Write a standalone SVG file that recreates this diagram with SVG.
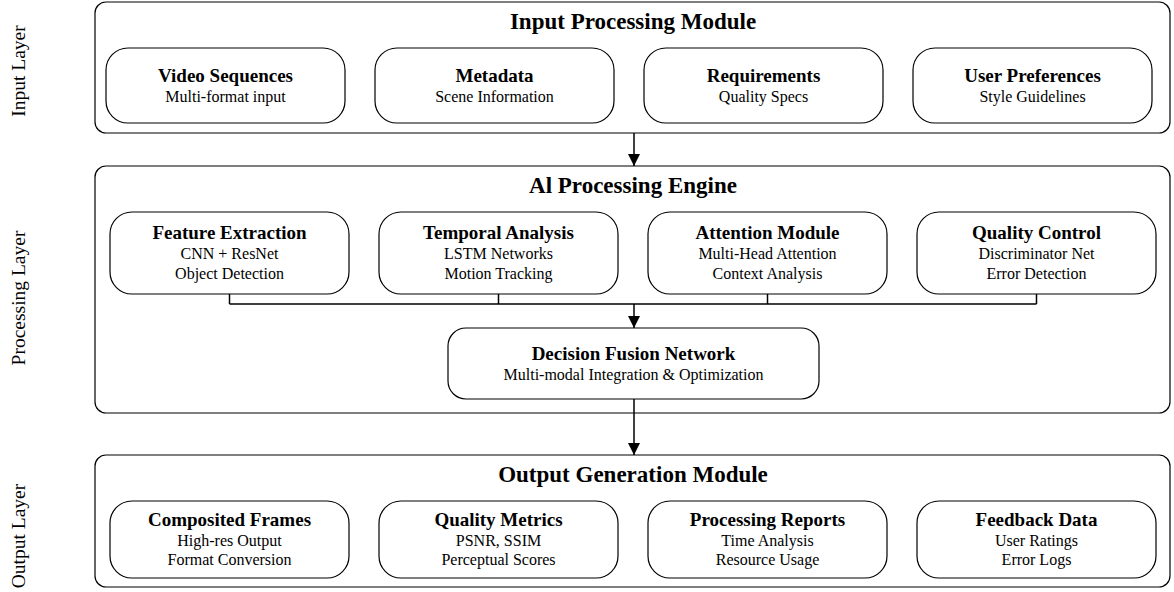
<svg xmlns="http://www.w3.org/2000/svg" width="1174" height="592" viewBox="0 0 1174 592">
<defs>
<style>
text{font-family:"Liberation Serif","Times New Roman",serif;fill:#000;text-anchor:middle}
.outer{fill:#fff;stroke:#000;stroke-width:1.2}
.node{fill:#fff;stroke:#000;stroke-width:1.2}
.mod{font-size:23px;font-weight:bold}
.t{font-size:19px;font-weight:bold}
.s{font-size:16px}
.lay{font-size:19.5px}
.conn{fill:none;stroke:#000;stroke-width:1.5}
</style>
<marker id="arr" markerWidth="12" markerHeight="12" refX="12" refY="6" orient="auto" markerUnits="userSpaceOnUse">
<path d="M0,0 L12,6 L0,12 Z" fill="#000"/>
</marker>
</defs>
<rect width="1174" height="592" fill="#fff"/>

<g id="layer-labels">
<text class="lay" transform="translate(25,71) rotate(-90)">Input Layer</text>
<text class="lay" transform="translate(25,298) rotate(-90)">Processing Layer</text>
<text class="lay" transform="translate(25,536) rotate(-90)">Output Layer</text>
</g>

<g id="input-module">
<rect class="outer" x="95" y="2" width="1075" height="131" rx="11"/>
<text class="mod" x="633" y="29">Input Processing Module</text>
</g>
<g id="video-sequences">
<rect class="node" x="106" y="48" width="239" height="75" rx="22"/>
<text class="t" x="225.5" y="82">Video Sequences</text>
<text class="s" x="225.5" y="102">Multi-format input</text>
</g>
<g id="metadata">
<rect class="node" x="375" y="48" width="239" height="75" rx="22"/>
<text class="t" x="494.5" y="82">Metadata</text>
<text class="s" x="494.5" y="102">Scene Information</text>
</g>
<g id="requirements">
<rect class="node" x="644" y="48" width="239" height="75" rx="22"/>
<text class="t" x="763.5" y="82">Requirements</text>
<text class="s" x="763.5" y="102">Quality Specs</text>
</g>
<g id="user-preferences">
<rect class="node" x="913" y="48" width="239" height="75" rx="22"/>
<text class="t" x="1032.5" y="82">User Preferences</text>
<text class="s" x="1032.5" y="102">Style Guidelines</text>
</g>

<g id="processing-engine">
<rect class="outer" x="95" y="166" width="1075" height="247" rx="11"/>
<text class="mod" x="633" y="193">Al Processing Engine</text>
</g>
<g id="feature-extraction">
<rect class="node" x="110" y="212" width="239" height="82" rx="22"/>
<text class="t" x="229.5" y="239">Feature Extraction</text>
<text class="s" x="229.5" y="259">CNN + ResNet</text>
<text class="s" x="229.5" y="279">Object Detection</text>
</g>
<g id="temporal-analysis">
<rect class="node" x="379" y="212" width="239" height="82" rx="22"/>
<text class="t" x="498.5" y="239">Temporal Analysis</text>
<text class="s" x="498.5" y="259">LSTM Networks</text>
<text class="s" x="498.5" y="279">Motion Tracking</text>
</g>
<g id="attention-module">
<rect class="node" x="648" y="212" width="239" height="82" rx="22"/>
<text class="t" x="767.5" y="239">Attention Module</text>
<text class="s" x="767.5" y="259">Multi-Head Attention</text>
<text class="s" x="767.5" y="279">Context Analysis</text>
</g>
<g id="quality-control">
<rect class="node" x="917" y="212" width="239" height="82" rx="22"/>
<text class="t" x="1036.5" y="239">Quality Control</text>
<text class="s" x="1036.5" y="259">Discriminator Net</text>
<text class="s" x="1036.5" y="279">Error Detection</text>
</g>
<g id="decision-fusion">
<rect class="node" x="448" y="328" width="371" height="71" rx="18"/>
<text class="t" x="633.5" y="360">Decision Fusion Network</text>
<text class="s" x="633.5" y="380">Multi-modal Integration &amp; Optimization</text>
</g>

<g id="output-module">
<rect class="outer" x="95" y="455" width="1075" height="132" rx="11"/>
<text class="mod" x="633" y="482">Output Generation Module</text>
</g>
<g id="composited-frames">
<rect class="node" x="110" y="501" width="239" height="77" rx="22"/>
<text class="t" x="229.5" y="526">Composited Frames</text>
<text class="s" x="229.5" y="546">High-res Output</text>
<text class="s" x="229.5" y="565">Format Conversion</text>
</g>
<g id="quality-metrics">
<rect class="node" x="379" y="501" width="239" height="77" rx="22"/>
<text class="t" x="498.5" y="526">Quality Metrics</text>
<text class="s" x="498.5" y="546">PSNR, SSIM</text>
<text class="s" x="498.5" y="565">Perceptual Scores</text>
</g>
<g id="processing-reports">
<rect class="node" x="648" y="501" width="239" height="77" rx="22"/>
<text class="t" x="767.5" y="526">Processing Reports</text>
<text class="s" x="767.5" y="546">Time Analysis</text>
<text class="s" x="767.5" y="565">Resource Usage</text>
</g>
<g id="feedback-data">
<rect class="node" x="917" y="501" width="239" height="77" rx="22"/>
<text class="t" x="1036.5" y="526">Feedback Data</text>
<text class="s" x="1036.5" y="546">User Ratings</text>
<text class="s" x="1036.5" y="565">Error Logs</text>
</g>

<g id="connectors">
<line class="conn" x1="634" y1="133" x2="634" y2="166" marker-end="url(#arr)"/>
<path class="conn" d="M229.5,294 V304 M498.5,294 V304 M767.5,294 V304 M1036.5,294 V304 M229.5,304 H1036.5"/>
<line class="conn" x1="634" y1="304" x2="634" y2="328" marker-end="url(#arr)"/>
<line class="conn" x1="634" y1="399" x2="634" y2="455" marker-end="url(#arr)"/>
</g>
</svg>
